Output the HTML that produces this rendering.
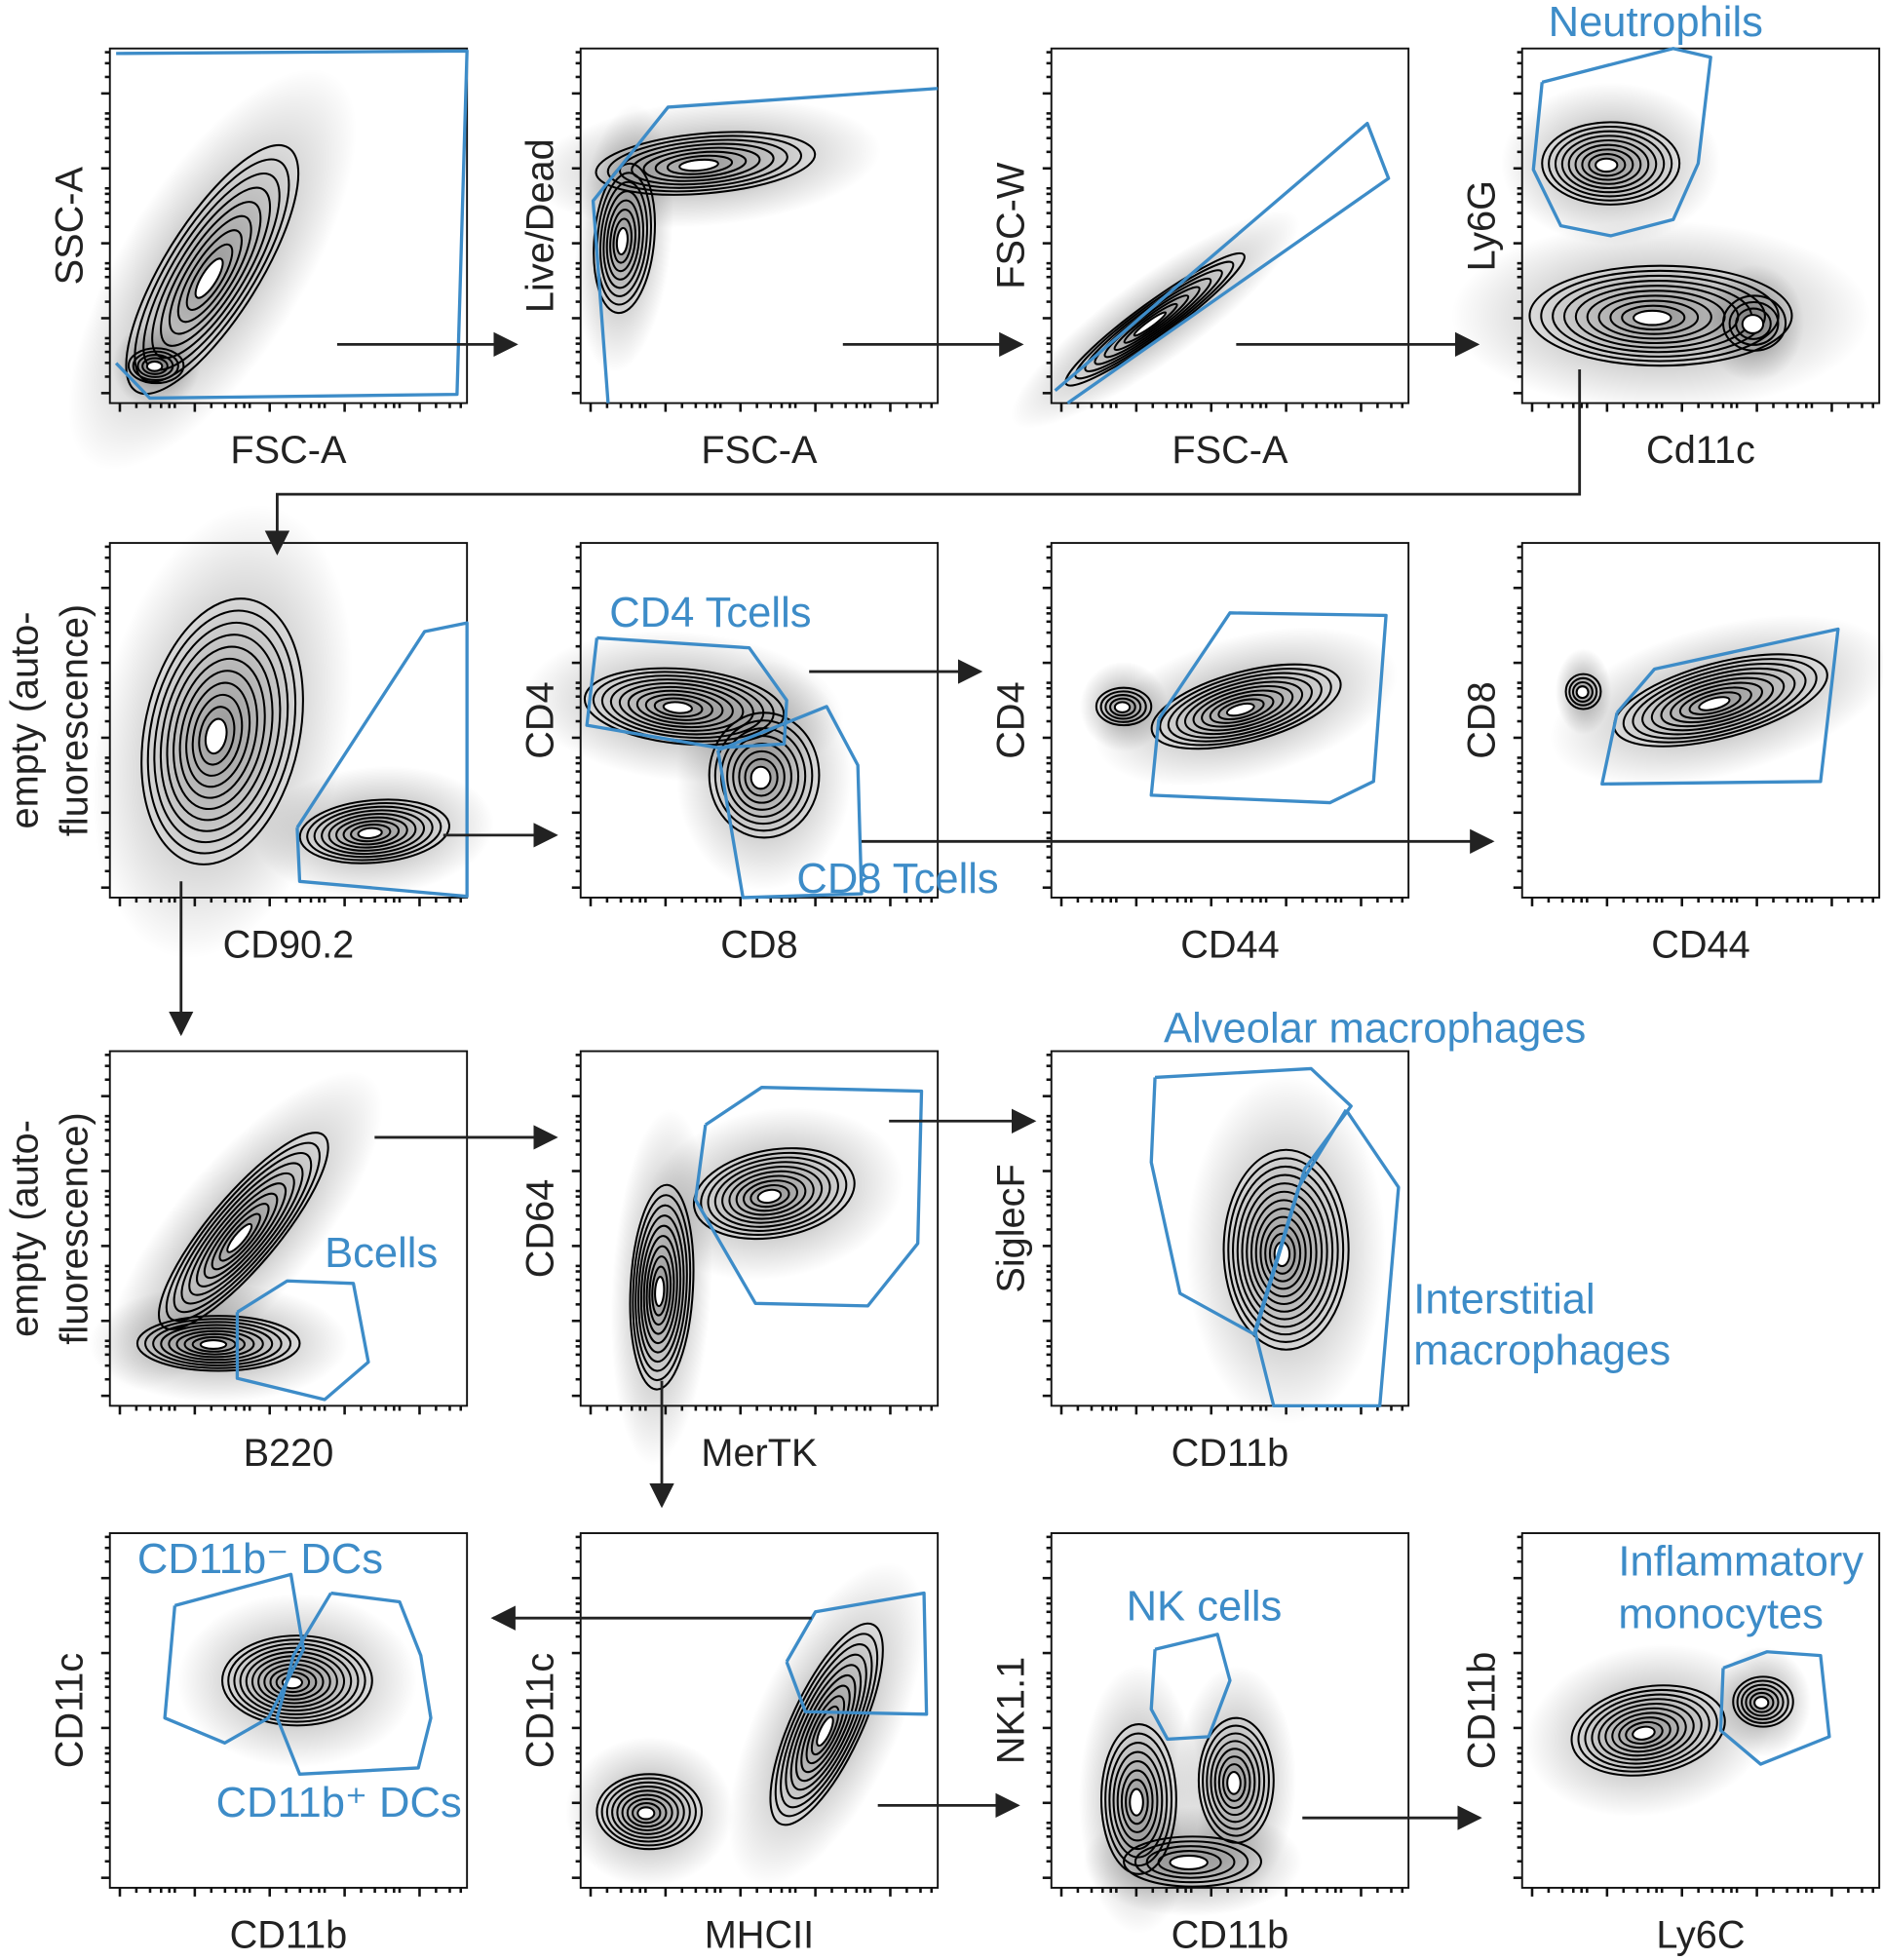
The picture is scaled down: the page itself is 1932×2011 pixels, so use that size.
<!DOCTYPE html>
<html><head><meta charset="utf-8"><style>
html,body{margin:0;padding:0;background:#fff;}
svg{display:block;}
text{font-family:"Liberation Sans",Arial,sans-serif;}
</style></head><body>
<svg id="fig" width="1932" height="2011" viewBox="0 0 1508 1568" xmlns="http://www.w3.org/2000/svg">
<defs>
<radialGradient id="halo"><stop offset="0" stop-color="#000" stop-opacity="0.4"/><stop offset="0.6" stop-color="#000" stop-opacity="0.15"/><stop offset="1" stop-color="#000" stop-opacity="0"/></radialGradient>
<marker id="ah" viewBox="0 0 10 10" refX="9" refY="5" markerWidth="9" markerHeight="9" orient="auto"><path d="M0,0 L10,5 L0,10 z" fill="#222"/></marker>
</defs>
<g id="layer"></g>
</svg>
<script>
const panelX = [88, 465, 842, 1219];
const panelY = [38, 434, 841, 1227];
const panelW = 286, panelH = 284;
const panelList = [[0,0],[1,0],[2,0],[3,0],[0,1],[1,1],[2,1],[3,1],[0,2],[1,2],[2,2],[0,3],[1,3],[2,3],[3,3]];
const xLabels = ["FSC-A","FSC-A","FSC-A","Cd11c","CD90.2","CD8","CD44","CD44","B220","MerTK","CD11b","CD11b","MHCII","CD11b","Ly6C"];
const yLabels = ["SSC-A","Live/Dead","FSC-W","Ly6G","","CD4","CD4","CD8","","CD64","SiglecF","CD11c","CD11c","NK1.1","CD11b"];
// blobs: [cx, cy, rx, ry, rotationDeg, levels]
const blobs = [
 [170,215,115,38,-58,9],[125,292,22,14,0,5],
 [565,130,88,24,-5,8],[500,190,24,60,5,8],
 [925,255,88,14,-36,8],
 [1290,130,55,33,0,9],[1330,252,105,40,0,10],[1405,258,25,22,0,4],
 [178,585,62,108,12,11],[300,665,60,25,-5,9],
 [548,565,80,30,5,10],[612,620,44,50,0,8],
 [998,565,78,28,-15,10],[900,565,22,15,0,5],
 [1378,560,88,30,-15,10],[1268,553,14,14,0,4],
 [195,985,100,28,-50,10],[175,1075,65,22,0,9],
 [620,955,65,35,-10,10],[530,1030,25,82,3,10],
 [1030,1000,50,80,0,12],
 [238,1345,60,36,0,11],
 [520,1450,42,30,0,9],[662,1380,88,28,-65,10],
 [912,1440,30,60,0,8],[990,1425,30,50,0,8],[955,1490,55,20,0,5],
 [1320,1385,62,35,-10,10],[1412,1362,24,20,0,6]
];
const gates = [
 [[93,42],[374,40],[366,315],[120,318],[93,290]],
 [[487,322],[475,160],[535,85],[751,70]],
 [[845,312],[1095,98],[1112,142],[855,322]],
 [[1235,65],[1340,38],[1370,45],[1360,130],[1340,175],[1290,188],[1250,180],[1228,135],[1235,65]],
 [[238,662],[340,505],[374,498],[374,717],[240,705],[238,662]],
 [[478,510],[600,518],[630,560],[628,595],[575,598],[470,580],[478,510]],
 [[575,600],[662,565],[687,612],[690,715],[595,718],[575,600]],
 [[928,575],[985,490],[1110,492],[1100,625],[1065,642],[922,636],[928,575]],
 [[1295,570],[1325,535],[1472,503],[1458,625],[1283,627],[1295,570]],
 [[190,1050],[230,1025],[283,1027],[295,1090],[260,1120],[190,1103],[190,1050]],
 [[565,900],[610,870],[738,873],[735,995],[695,1045],[605,1043],[557,960],[565,900]],
 [[925,862],[1050,855],[1082,885],[1045,935],[1005,1068],[945,1035],[922,930],[925,862]],
 [[1078,888],[1120,950],[1105,1125],[1020,1125],[1005,1065],[1040,950],[1078,888]],
 [[140,1285],[233,1260],[243,1320],[215,1375],[180,1395],[132,1375],[140,1285]],
 [[265,1275],[320,1282],[337,1325],[345,1375],[335,1415],[240,1420],[222,1375],[235,1325],[265,1275]],
 [[630,1330],[653,1290],[740,1275],[742,1372],[645,1370],[630,1330]],
 [[925,1320],[975,1308],[985,1345],[968,1390],[935,1392],[922,1368],[925,1320]],
 [[1380,1335],[1415,1322],[1458,1325],[1465,1390],[1410,1412],[1378,1385],[1380,1335]]
];
const gateLabels = [
 ["Neutrophils",1240,28],["CD4 Tcells",488,501],["CD8 Tcells",638,714],["Alveolar macrophages",932,834],
 ["Interstitial",1132,1051],["macrophages",1132,1092],["Bcells",260,1014],["CD11b\u207B DCs",110,1259],
 ["CD11b\u207A DCs",173,1454],["NK cells",902,1297],["Inflammatory",1296,1261],["monocytes",1296,1303]
];
const arrows = [
 [[270,275],[413,275]],[[675,275],[818,275]],[[990,275],[1183,275]],
 [[1265,295],[1265,395],[222,395],[222,442]],
 [[355,668],[445,668]],[[648,537],[785,537]],[[690,673],[1195,673]],
 [[145,705],[145,827]],[[300,910],[445,910]],[[712,897],[828,897]],
 [[530,1105],[530,1205]],[[650,1295],[395,1295]],[[703,1445],[815,1445]],[[1043,1455],[1185,1455]]
];
const NS = "http://www.w3.org/2000/svg";
const layer = document.getElementById('layer');
function mk(tag, attrs, parent){const e=document.createElementNS(NS,tag);for(const k in attrs)e.setAttribute(k,attrs[k]);(parent||layer).appendChild(e);return e;}

blobs.forEach(b=>{
 const e=mk('ellipse',{cx:b[0],cy:b[1],rx:b[2]*1.6,ry:b[3]*1.6+12,fill:'url(#halo)',transform:`rotate(${b[4]} ${b[0]} ${b[1]})`});
 
 
});
panelList.forEach((p,i)=>{
 const x=panelX[p[0]], y=panelY[p[1]];
 const g=mk('g',{});
 
 
 mk('rect',{x:x,y:y,width:panelW,height:panelH,fill:'none',stroke:'#111','stroke-width':1.5},g);
 for(let k=0;k<5;k++){
  const base=k*60;
  [0,6,11,15,18,20].forEach((o,j)=>{
   const len=j==0?7:4;
   const tx=x+8+base+o*2.2; if(tx<x+panelW-2) mk('line',{x1:tx,y1:y+panelH,x2:tx,y2:y+panelH+len,stroke:'#111','stroke-width':2},g);
   const ty=y+panelH-8-base-o*2.2; if(ty>y+2) mk('line',{x1:x,y1:ty,x2:x-len,y2:ty,stroke:'#111','stroke-width':2},g);
  });
 }
 const xl=mk('text',{x:x+panelW/2,y:y+panelH+48,'text-anchor':'middle','font-size':31,fill:'#222'},g);
 xl.textContent=xLabels[i];
 
 
 if(yLabels[i]){
  const cx=x-22, cy=y+panelH/2;
  const yl=mk('text',{x:cx,y:cy,'text-anchor':'middle','font-size':31,fill:'#222',transform:`rotate(-90 ${cx} ${cy})`},g);
  yl.textContent=yLabels[i];
  
  
 } else {
  const cy=y+panelH/2;
  [["empty (auto-",x-58],["fluorescence)",x-18]].forEach(t=>{
   const yl=mk('text',{x:t[1],y:cy,'text-anchor':'middle','font-size':31,fill:'#222',transform:`rotate(-90 ${t[1]} ${cy})`},g);
   yl.textContent=t[0];
   
   
  });
 }
});
blobs.forEach(b=>{
 const g=mk('g',{transform:`rotate(${b[4]} ${b[0]} ${b[1]})`});
 
 
 const n=b[5];
 for(let k=0;k<n;k++){
  const f=1-k/(n+0.5);
  const sh=(1-f)*0.25;
  mk('ellipse',{cx:b[0]-b[2]*sh*0.3,cy:b[1]+b[3]*sh*0.2,rx:b[2]*f,ry:b[3]*f,fill:k==n-1?'#fff':'none',stroke:'#000','stroke-width':1.6},g);
 }
});
gates.forEach(pts=>{
 const pl=mk('polyline',{points:pts.map(p=>p.join(',')).join(' '),fill:'none',stroke:'#3d8cc8','stroke-width':2.6,'stroke-linejoin':'round'});
 
 
});
gateLabels.forEach(l=>{
 const t=mk('text',{x:l[1],y:l[2],'font-size':34,fill:'#3d8cc8'});
 t.textContent=l[0];
 
 
});
arrows.forEach(a=>{
 const pl=mk('polyline',{points:a.map(p=>p.join(',')).join(' '),fill:'none',stroke:'#222','stroke-width':2.2,'marker-end':'url(#ah)'});
 
 
});
</script>
</body></html>
